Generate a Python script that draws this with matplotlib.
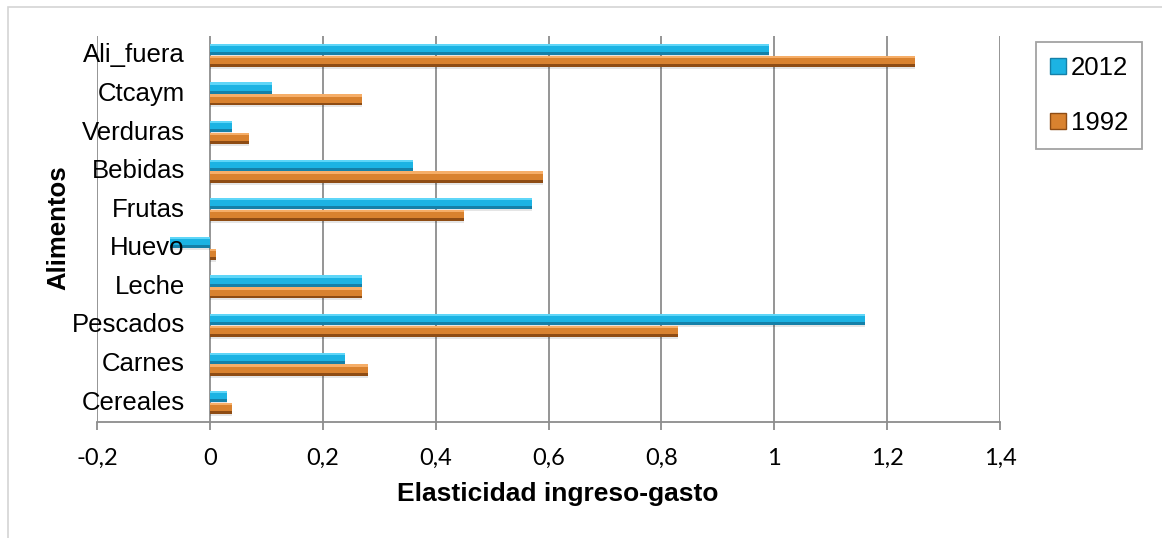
import matplotlib
matplotlib.use("Agg")
import matplotlib.pyplot as plt
import numpy as np
from matplotlib.patches import Patch, Rectangle

categories = ["Cereales", "Carnes", "Pescados", "Leche", "Huevo",
              "Frutas", "Bebidas", "Verduras", "Ctcaym", "Ali_fuera"]
values_2012 = [0.03, 0.24, 1.16, 0.27, -0.07, 0.57, 0.36, 0.04, 0.11, 0.99]
values_1992 = [0.04, 0.28, 0.83, 0.27, 0.01, 0.45, 0.59, 0.07, 0.27, 1.25]
x_ticks = [-0.2, 0, 0.2, 0.4, 0.6, 0.8, 1, 1.2, 1.4]
x_tick_labels = ["-0,2", "0", "0,2", "0,4", "0,6", "0,8", "1", "1,2", "1,4"]

# bevel palette: (shade, body, highlight)
BLUE = ("#1580a8", "#1cb3e3", "#5fd6f8")
ORANGE = ("#8e4c14", "#d9822f", "#f6ae68")
GRID = "#8c8c8c"

fig = plt.figure(figsize=(11.62, 5.38), dpi=100)
ax = fig.add_axes([97 / 1162, 116 / 538, 903 / 1162, 386 / 538])

y = np.arange(len(categories))
bar_h = 0.29
offset = 0.155


def bevel_bars(ypos, widths, colors):
    shade, body, light = colors
    # soft drop shadow under the bar
    ax.barh(ypos - 0.05, widths, height=bar_h, color="#000000",
            alpha=0.10, linewidth=0, zorder=2)
    ax.barh(ypos, widths, height=bar_h, color=body, linewidth=0, zorder=3)
    ax.barh(ypos - bar_h * 0.37, widths, height=bar_h * 0.26, color=shade,
            linewidth=0, zorder=4)
    ax.barh(ypos + bar_h * 0.40, widths, height=bar_h * 0.2, color=light,
            linewidth=0, zorder=4)


bevel_bars(y + offset, values_2012, BLUE)
bevel_bars(y - offset, values_1992, ORANGE)

ax.set_xlim(-0.2, 1.4)
ax.set_ylim(-0.5, len(categories) - 0.5)
ax.set_xticks(x_ticks)
ax.set_xticklabels(x_tick_labels, family="Lato", fontsize=17)
ax.grid(axis="x", color=GRID, linewidth=1.3)
ax.grid(axis="y", visible=False)
ax.set_axisbelow(True)

for side in ("left", "top", "right"):
    ax.spines[side].set_visible(False)
ax.spines["bottom"].set_color(GRID)
ax.spines["bottom"].set_linewidth(1.3)
ax.tick_params(axis="x", colors=GRID, length=6, width=1.3, pad=12.5,
               labelcolor="black")
ax.set_yticks([])

# category labels hang off the x = 0 line
for yi, name in zip(y, categories):
    ax.annotate(name, xy=(0, yi), xytext=(-25, 0), textcoords="offset pixels",
                ha="right", va="center", fontsize=18.5,
                family="Liberation Sans", zorder=10)

fig.text(558 / 1162, 1 - 501 / 538, "Elasticidad ingreso-gasto", ha="center",
         va="baseline", fontsize=19, fontweight="bold",
         family="Liberation Sans")
fig.text(58 / 1162, 1 - 228 / 538, "Alimentos", rotation=90, ha="center",
         va="center", fontsize=18.5, fontweight="bold",
         family="Liberation Sans")

handles = [Patch(facecolor=BLUE[1], edgecolor=BLUE[0], label="2012"),
           Patch(facecolor=ORANGE[1], edgecolor=ORANGE[0], label="1992")]
leg = fig.legend(handles=handles, loc="upper left",
                 bbox_to_anchor=(1036 / 1162, 1 - 42 / 538),
                 prop={"family": "Liberation Sans", "size": 18.5},
                 frameon=True, fancybox=False, edgecolor=GRID,
                 handlelength=0.6, handleheight=0.6, handletextpad=0.2,
                 labelspacing=1.2, borderpad=0.55, borderaxespad=0)
leg.get_frame().set_linewidth(1.3)

# outer chart border
fig.patches.append(Rectangle((8 / 1162, -0.5), 1.2, 0.5 + 1 - 7 / 538,
                             transform=fig.transFigure, fill=False,
                             edgecolor="#d4d4d4", linewidth=1.2))

fig.savefig("out.png", dpi=100, facecolor="white")
